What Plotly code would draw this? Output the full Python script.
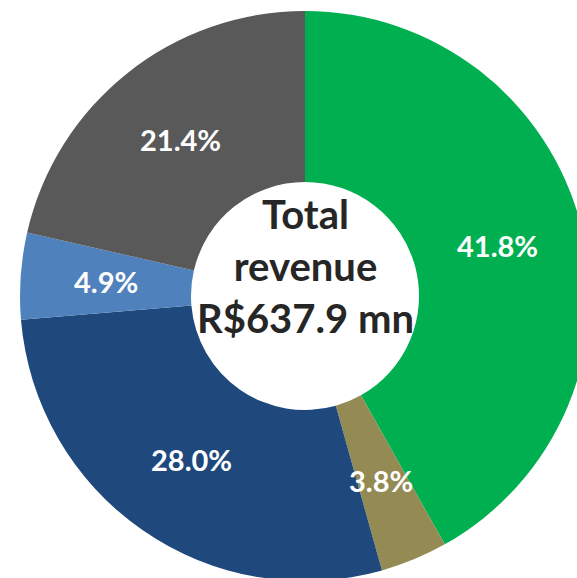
import math
import plotly.graph_objects as go

segments = ["Segment A", "Segment B", "Segment C", "Segment D", "Segment E"]
shares = [41.8, 3.8, 28.0, 4.9, 21.4]
share_labels = ["41.8%", "3.8%", "28.0%", "4.9%", "21.4%"]
colors = ["#00B050", "#948A54", "#1F497D", "#4F81BD", "#595959"]
center_title = "Total<br>revenue<br>R$637.9 mn"

FONT = "Lato"
W, H = 590, 592
X0 = 20                      # left edge of pie domain in px
HOLE = 0.40

fig = go.Figure(
    go.Pie(
        labels=segments,
        values=shares,
        textinfo="none",
        marker=dict(colors=colors, line=dict(width=0)),
        hole=HOLE,
        sort=False,
        direction="clockwise",
        rotation=0,
        domain=dict(x=[X0 / W, 1], y=[0, 1]),
        hoverinfo="skip",
    )
)

# geometry of the pie (derived from domain)
R = min(W - X0, H) / 2
CX = X0 + R
CY = H / 2
r_lab = R * (1 + HOLE) / 2
total = sum(shares)

annotations = []
cum = 0.0
for v, t in zip(shares, share_labels):
    mid = (cum + v / 2) / total * 2 * math.pi
    cum += v
    px = CX + r_lab * math.sin(mid)
    py = CY - r_lab * math.cos(mid)
    annotations.append(dict(
        x=px / W, y=1 - py / H, xref="paper", yref="paper",
        text=t, showarrow=False, xanchor="center", yanchor="middle",
        font=dict(family=FONT, size=29, color="white", weight="bold"),
    ))

annotations.append(dict(
    x=CX / W, y=1 - (CY - 30) / H, xref="paper", yref="paper",
    text=center_title, showarrow=False, xanchor="center", yanchor="middle",
    font=dict(family=FONT, size=40, color="#262626", weight="bold"),
))

fig.update_layout(
    width=W,
    height=H,
    margin=dict(l=0, r=0, t=0, b=0),
    showlegend=False,
    paper_bgcolor="white",
    plot_bgcolor="white",
    annotations=annotations,
)

fig.write_html(
    "out.html",
    config={"displayModeBar": False},
    post_script="document.body.style.margin='0';document.body.style.overflow='hidden';",
)
